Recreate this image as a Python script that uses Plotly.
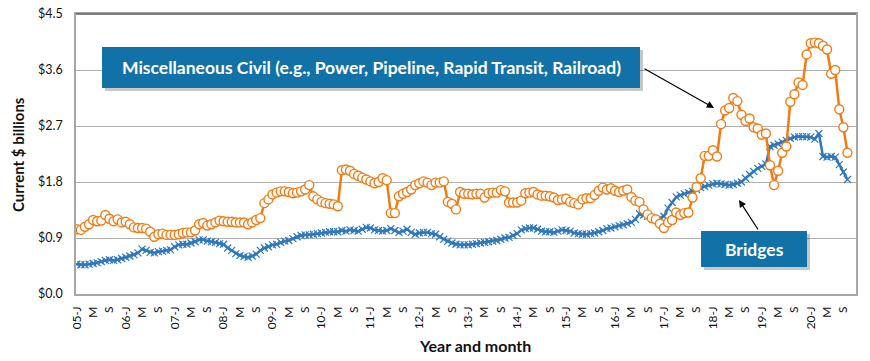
import plotly.graph_objects as go

# Monthly values, Jan 2005 .. Oct 2020 (current $ billions)
misc_civil = [
    1.04, 1.03, 1.08, 1.12, 1.19, 1.17, 1.18, 1.27, 1.21, 1.17, 1.20, 1.15,   # 2005
    1.16, 1.12, 1.07, 1.06, 1.06, 1.05, 1.00, 0.92, 0.96, 0.97, 0.95, 0.95,   # 2006
    0.95, 0.96, 0.98, 0.99, 0.99, 1.02, 1.12, 1.14, 1.10, 1.12, 1.15, 1.18,   # 2007
    1.17, 1.16, 1.16, 1.15, 1.15, 1.15, 1.12, 1.15, 1.19, 1.22, 1.46, 1.52,   # 2008
    1.60, 1.63, 1.65, 1.65, 1.64, 1.62, 1.63, 1.65, 1.68, 1.75, 1.57, 1.52,   # 2009
    1.48, 1.46, 1.45, 1.44, 1.41, 1.99, 2.00, 1.98, 1.93, 1.90, 1.87, 1.84,   # 2010
    1.81, 1.78, 1.80, 1.86, 1.83, 1.30, 1.30, 1.57, 1.61, 1.64, 1.68, 1.75,   # 2011
    1.78, 1.81, 1.79, 1.75, 1.79, 1.79, 1.81, 1.48, 1.45, 1.36, 1.64, 1.61,   # 2012
    1.61, 1.60, 1.61, 1.61, 1.55, 1.62, 1.63, 1.63, 1.67, 1.65, 1.47, 1.47,   # 2013
    1.47, 1.50, 1.62, 1.63, 1.64, 1.60, 1.58, 1.58, 1.57, 1.55, 1.51, 1.52,   # 2014
    1.53, 1.48, 1.46, 1.44, 1.52, 1.54, 1.54, 1.59, 1.66, 1.71, 1.68, 1.70,   # 2015
    1.66, 1.64, 1.66, 1.68, 1.56, 1.50, 1.48, 1.36, 1.28, 1.22, 1.20, 1.13,   # 2016
    1.06, 1.15, 1.19, 1.31, 1.27, 1.30, 1.31, 1.55, 1.72, 1.86, 2.22, 2.22,   # 2017
    2.31, 2.21, 2.73, 2.95, 2.99, 3.15, 3.10, 2.88, 2.78, 2.82, 2.68, 2.66,   # 2018
    2.56, 2.58, 2.07, 1.75, 1.98, 2.27, 2.37, 3.09, 3.21, 3.40, 3.36, 3.85,   # 2019
    4.03, 4.04, 4.03, 3.99, 3.93, 3.54, 3.60, 2.97, 2.68, 2.27,               # 2020
]

bridges = [
    0.48, 0.47, 0.47, 0.48, 0.49, 0.50, 0.52, 0.54, 0.55, 0.54, 0.55, 0.57,   # 2005
    0.59, 0.61, 0.63, 0.66, 0.72, 0.70, 0.67, 0.66, 0.68, 0.69, 0.70, 0.71,   # 2006
    0.76, 0.79, 0.80, 0.80, 0.82, 0.84, 0.87, 0.87, 0.85, 0.84, 0.83, 0.81,   # 2007
    0.80, 0.74, 0.70, 0.65, 0.62, 0.60, 0.59, 0.61, 0.64, 0.70, 0.74, 0.76,   # 2008
    0.79, 0.80, 0.83, 0.85, 0.86, 0.89, 0.92, 0.94, 0.95, 0.95, 0.96, 0.97,   # 2009
    0.98, 0.99, 1.00, 1.00, 1.00, 1.02, 1.01, 1.03, 1.02, 1.01, 1.04, 1.07,   # 2010
    1.06, 1.03, 1.02, 1.01, 1.02, 1.05, 1.02, 0.99, 1.01, 1.04, 0.99, 0.96,   # 2011
    0.98, 0.99, 0.99, 0.97, 0.96, 0.92, 0.88, 0.85, 0.82, 0.80, 0.79, 0.79,   # 2012
    0.79, 0.80, 0.81, 0.82, 0.83, 0.84, 0.85, 0.86, 0.88, 0.90, 0.91, 0.94,   # 2013
    0.97, 1.03, 1.05, 1.06, 1.06, 1.04, 1.01, 1.00, 1.00, 0.99, 1.01, 1.03,   # 2014
    1.02, 1.01, 0.98, 0.97, 0.96, 0.96, 0.97, 0.98, 1.00, 1.02, 1.05, 1.06,   # 2015
    1.08, 1.10, 1.11, 1.13, 1.15, 1.20, 1.29, 1.27, 1.25, 1.23, 1.20, 1.22,   # 2016
    1.25, 1.38, 1.47, 1.56, 1.59, 1.61, 1.63, 1.65, 1.68, 1.71, 1.73, 1.75,   # 2017
    1.77, 1.78, 1.77, 1.76, 1.75, 1.76, 1.78, 1.80, 1.86, 1.92, 1.97, 2.02,   # 2018
    2.05, 2.09, 2.37, 2.39, 2.41, 2.44, 2.47, 2.50, 2.52, 2.53, 2.53, 2.53,   # 2019
    2.52, 2.49, 2.58, 2.21, 2.20, 2.21, 2.20, 2.08, 1.96, 1.84,               # 2020
]

years = ["05", "06", "07", "08", "09", "10", "11", "12",
         "13", "14", "15", "16", "17", "18", "19", "20"]
tick_labels = []
for yy in years:
    tick_labels += [yy + "-J", "M", "S"]
tick_positions = [4 * k for k in range(len(tick_labels))]

y_ticks = [0.0, 0.9, 1.8, 2.7, 3.6, 4.5]
y_tick_labels = ["$0.0", "$0.9", "$1.8", "$2.7", "$3.6", "$4.5"]

months = list(range(len(misc_civil)))

ORANGE = "#F27B14"
BLUE = "#2F78BD"
BOX = "#1272A8"
FONT = "Lato"

fig = go.Figure()
fig.add_trace(go.Scatter(
    x=months, y=bridges, mode="lines+markers", name="Bridges",
    line=dict(color=BLUE, width=2.5),
    marker=dict(symbol="x-thin", size=7, line=dict(width=1.2, color=BLUE), color=BLUE),
))
fig.add_trace(go.Scatter(
    x=months, y=misc_civil, mode="lines+markers", name="Miscellaneous Civil",
    line=dict(color=ORANGE, width=2.5),
    marker=dict(symbol="circle", size=9, color="white", line=dict(width=1.4, color=ORANGE)),
))

# plot area in page pixels: x 76..856, y 14..294 (page body margin removed below)
W, H = 870, 361
L, T = 76, 14
R = W - 856
B = H - 294
PW, PH = W - L - R, H - T - B


def px(xp):
    return (xp - L) / PW


def py(yp):
    return (T + PH - yp) / PH


shapes = []
shapes.append(dict(type="line", xref="paper", yref="paper", x0=0, x1=1, y0=1, y1=1,
                   line=dict(color="#606060", width=1.5), layer="above"))
for (x0, y0, x1, y1) in [(102, 47, 640, 88), (701, 231, 807, 267)]:
    shapes.append(dict(type="rect", xref="paper", yref="paper",
                       x0=px(x0 + 3), x1=px(x1 + 3), y0=py(y1 + 3), y1=py(y0 + 3),
                       fillcolor="rgba(0,0,0,0.22)", line=dict(width=0), layer="above"))
    shapes.append(dict(type="rect", xref="paper", yref="paper",
                       x0=px(x0), x1=px(x1), y0=py(y1), y1=py(y0),
                       fillcolor=BOX, line=dict(width=0), layer="above"))

annotations = [
    dict(text="<b>Miscellaneous Civil (e.g., Power, Pipeline, Rapid Transit, Railroad)</b>",
         xref="paper", yref="paper", x=px(371), y=py(67.5), showarrow=False,
         font=dict(family=FONT, size=17.5, color="white"), xanchor="center", yanchor="middle"),
    dict(text="<b>Bridges</b>", xref="paper", yref="paper", x=px(754), y=py(249),
         showarrow=False, font=dict(family=FONT, size=17.5, color="white"),
         xanchor="center", yanchor="middle"),
    dict(text="", xref="paper", yref="paper", x=px(714), y=py(108), ax=643 - 714, ay=68 - 108,
         showarrow=True, arrowhead=2, arrowsize=1.2, arrowwidth=1.2, arrowcolor="black"),
    dict(text="", xref="paper", yref="paper", x=px(739), y=py(200), ax=759 - 739, ay=231 - 200,
         showarrow=True, arrowhead=2, arrowsize=1.2, arrowwidth=1.2, arrowcolor="black"),
    dict(text="<b>Current $ billions</b>", xref="paper", yref="paper", x=px(18), y=py(155),
         textangle=-90, showarrow=False, font=dict(family=FONT, size=15, color="#111"),
         xanchor="center", yanchor="middle"),
    dict(text="<b>Year and month</b>", xref="paper", yref="paper", x=px(475), y=py(345),
         showarrow=False, font=dict(family=FONT, size=16, color="#111"),
         xanchor="center", yanchor="middle"),
]

fig.update_layout(
    width=W, height=H,
    margin=dict(l=L, r=R, t=T, b=B, pad=0, autoexpand=False),
    paper_bgcolor="white", plot_bgcolor="white",
    showlegend=False,
    font=dict(family=FONT, color="#111"),
    shapes=shapes, annotations=annotations,
    xaxis=dict(
        range=[-0.2, 191.1], tickmode="array", tickvals=tick_positions, ticktext=tick_labels,
        tickangle=-90, showgrid=False, zeroline=False, automargin=False,
        showline=True, linecolor="#A6A6A6", linewidth=1.5, mirror=True,
        ticks="", ticklabelstandoff=6, tickfont=dict(family=FONT, size=12, color="#111"),
    ),
    yaxis=dict(
        range=[0, 4.5], tickmode="array", tickvals=y_ticks, ticktext=y_tick_labels,
        showgrid=True, gridcolor="#B0B0B0", gridwidth=1.2, zeroline=False, automargin=False,
        showline=True, linecolor="#A6A6A6", linewidth=1.5, mirror=True,
        ticks="", ticklabelstandoff=9, ticklabeloverflow="allow",
        tickfont=dict(family=FONT, size=12.5, color="#111"),
    ),
)

fig.write_html(
    "out.html",
    config={"displayModeBar": False},
    post_script="document.body.style.margin='0px';document.body.style.overflow='hidden';",
)
